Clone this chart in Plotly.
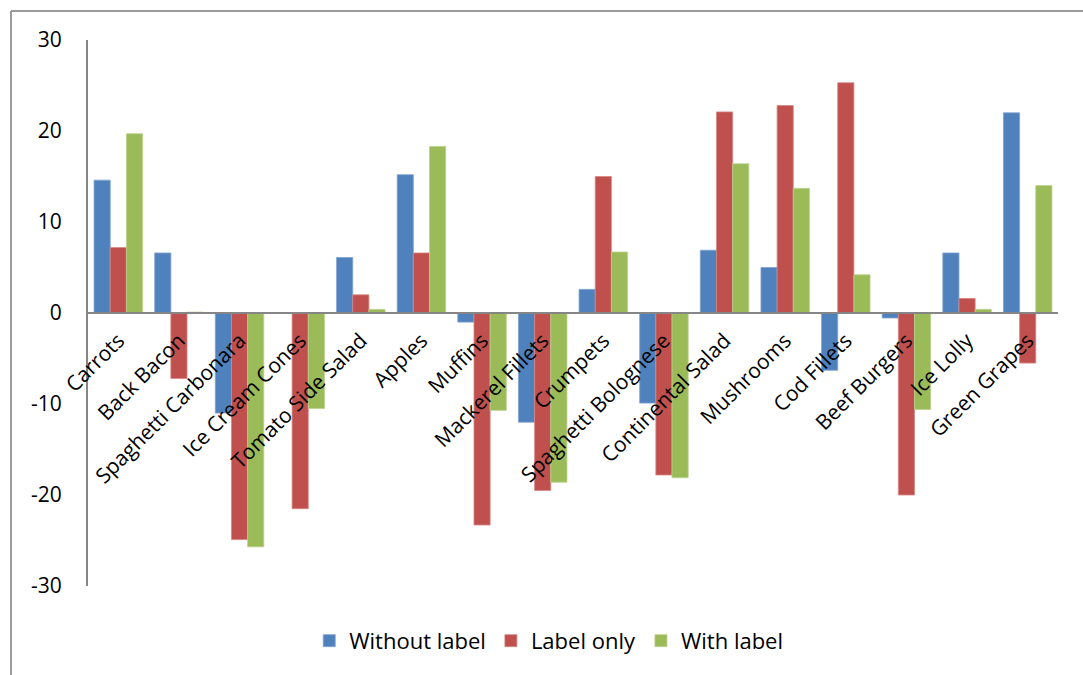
import plotly.graph_objects as go

categories = ["Carrots", "Back Bacon", "Spaghetti Carbonara", "Ice Cream Cones",
              "Tomato Side Salad", "Apples", "Muffins", "Mackerel Fillets", "Crumpets",
              "Spaghetti Bolognese", "Continental Salad", "Mushrooms", "Cod Fillets",
              "Beef Burgers", "Ice Lolly", "Green Grapes"]
without_label = [14.6, 6.6, -11.0, 0.0, 6.1, 15.2, -1.0, -12.0, 2.6, -9.9, 6.9, 5.0, -6.3, -0.55, 6.6, 22.0]
label_only = [7.2, -7.2, -24.9, -21.5, 2.0, 6.6, -23.3, -19.5, 15.0, -17.8, 22.1, 22.8, 25.3, -20.0, 1.6, -5.5]
with_label = [19.7, 0.1, -25.7, -10.5, 0.4, 18.3, -10.7, -18.6, 6.7, -18.1, 16.4, 13.7, 4.2, -10.6, 0.4, 14.0]
y_ticks = [-30, -20, -10, 0, 10, 20, 30]
y_tick_labels = ["-30", "-20", "-10", "0", "10", "20", "30"]

series = [
    ("Without label", without_label, "#4F81BD", "#7FA3D0"),
    ("Label only", label_only, "#C0504D", "#D68784"),
    ("With label", with_label, "#9BBB59", "#BBD18E"),
]

W, H = 1083, 675
ML, MR, MT, MB = 88, 25, 40, 89
font = "Open Sans"

fig = go.Figure()
for name, vals, col, rim in series:
    fig.add_trace(go.Bar(x=categories, y=vals, name=name,
                         marker=dict(color=col, line=dict(width=0.8, color=rim))))

pw = W - ML - MR
ph = H - MT - MB


def px_x(px):
    return (px - ML) / pw


def px_y(py):
    return (H - MB - py) / ph


# outer frame around the chart area (top and left edges)
frame = dict(type="line", xref="paper", yref="paper",
             line=dict(color="#9a9a9a", width=2))
fig.add_shape(**frame, x0=px_x(11), x1=px_x(W + 5), y0=px_y(11), y1=px_y(11))
fig.add_shape(**frame, x0=px_x(11), x1=px_x(11), y0=px_y(11), y1=px_y(H + 5))

fig.update_layout(
    width=W, height=H,
    margin=dict(l=ML, r=MR, t=MT, b=MB),
    paper_bgcolor="white", plot_bgcolor="white",
    barmode="group", bargap=0.2, bargroupgap=0,
    font=dict(family=font, size=21, color="black"),
    showlegend=True,
    legend=dict(orientation="h", x=0.475, xanchor="center", y=-0.062, yanchor="top",
                font=dict(size=22, family=font), itemwidth=30, traceorder="normal"),
    xaxis=dict(anchor="free", position=0.5, showline=True, linecolor="#868686",
               linewidth=2, ticks="", tickangle=-45, ticklabelstandoff=6,
               tickfont=dict(size=21, family=font),
               showgrid=False, zeroline=False),
    yaxis=dict(range=[-30, 30], tickvals=y_ticks, ticktext=y_tick_labels,
               showline=True, linecolor="#868686",
               linewidth=2, ticks="", ticklabelstandoff=20, showgrid=False,
               zeroline=False, tickfont=dict(size=21, family=font)),
)

fig.write_html("out.html")
